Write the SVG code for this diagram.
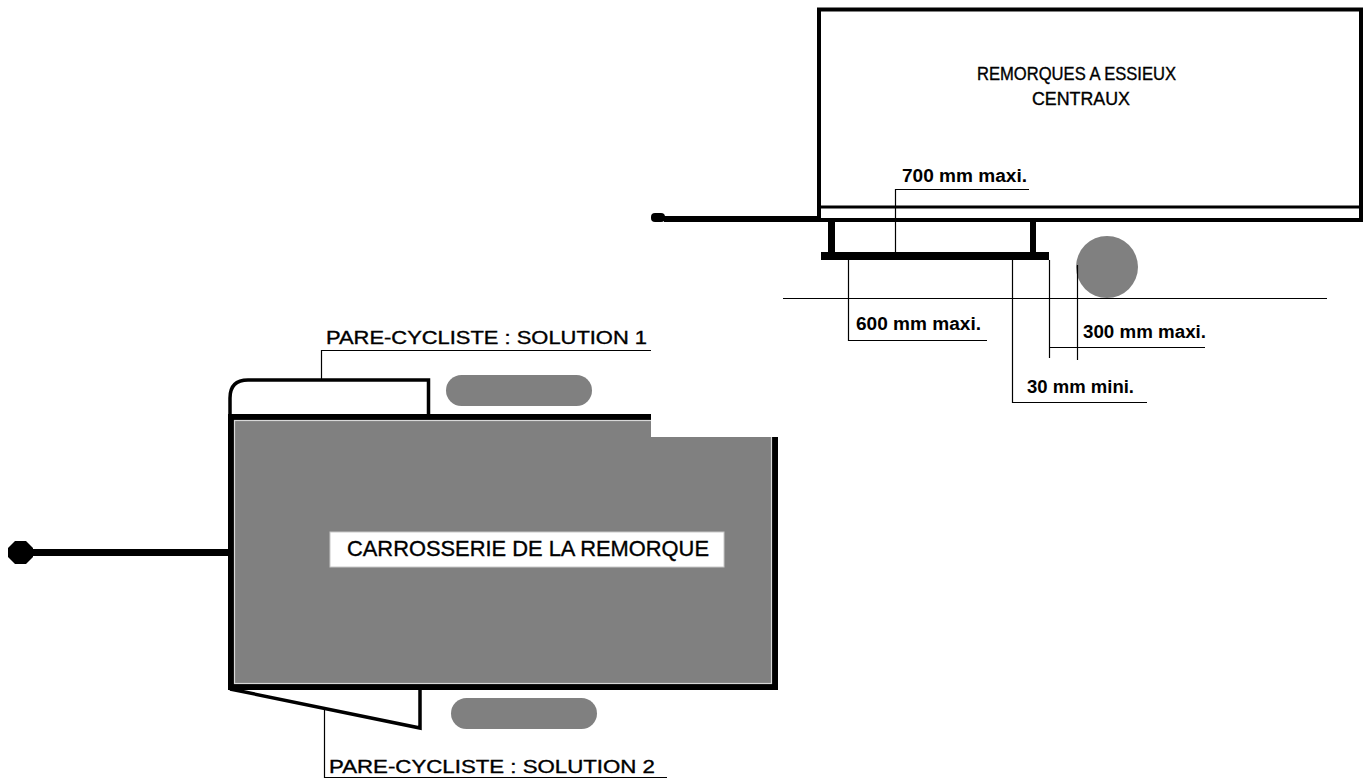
<svg xmlns="http://www.w3.org/2000/svg" width="1367" height="780" viewBox="0 0 1367 780">
<style>
.t{font-family:"Liberation Sans",Arial,sans-serif;fill:#000}
.reg{stroke:#000;stroke-width:0.35}
.dim{font-size:17.5px;font-weight:bold}
.thin{stroke:#000;stroke-width:1.2;fill:none}
.gray{fill:#808080}
</style>
<rect width="1367" height="780" fill="#fff"/>
<g id="side-trailer">
  <rect x="819" y="9.5" width="542" height="210.5" fill="none" stroke="#000" stroke-width="4"/>
  <line x1="819" y1="207" x2="1361" y2="207" stroke="#000" stroke-width="3"/>
  <text class="t reg" x="977" y="80" font-size="17.5" textLength="199" lengthAdjust="spacingAndGlyphs">REMORQUES A ESSIEUX</text>
  <text class="t reg" x="1032" y="105" font-size="17.5" textLength="98" lengthAdjust="spacingAndGlyphs">CENTRAUX</text>
</g>
<g id="side-towbar">
  <line x1="664" y1="219" x2="819" y2="219" stroke="#000" stroke-width="6"/>
  <rect x="651" y="213" width="14" height="9" rx="4" fill="#000"/>
</g>
<g id="side-guard">
  <rect x="828" y="220" width="7" height="33" fill="#000"/>
  <rect x="1030" y="220" width="6" height="33" fill="#000"/>
  <rect x="821" y="252" width="228" height="8" fill="#000"/>
</g>
<g id="side-wheel">
  <circle cx="1107" cy="267" r="31" class="gray"/>
</g>
<g id="ground">
  <line x1="783" y1="298.5" x2="1327" y2="298.5" stroke="#000" stroke-width="1.2"/>
</g>
<g id="plan-body">
  <rect x="231" y="417" width="544" height="270" fill="#808080" stroke="#000" stroke-width="6"/>
  <rect x="234.5" y="420.5" width="537" height="263" fill="none" stroke="#d8d8d8" stroke-width="1.2"/>
  <rect x="651" y="410" width="130" height="27" fill="#fff"/>
  <rect x="330" y="532" width="394" height="35" fill="#fff" stroke="#c8c8c8" stroke-width="1"/>
  <text class="t reg" x="347" y="556" font-size="21.5" textLength="362" lengthAdjust="spacingAndGlyphs">CARROSSERIE DE LA REMORQUE</text>
</g>
<g id="plan-towbar">
  <line x1="30" y1="552.5" x2="231" y2="552.5" stroke="#000" stroke-width="7"/>
  <polygon points="15,541 26,541 33,548 33,557 26,564 15,564 8,557 8,548" fill="#000"/>
</g>
<g id="guard-1">
  <path d="M230 416 V398 Q230 380 248 380 H428.5 V416" fill="none" stroke="#000" stroke-width="3.5"/>
</g>
<g id="guard-2">
  <path d="M230 689 L420 728 V689" fill="none" stroke="#000" stroke-width="3.5"/>
</g>
<g id="wheel-top">
  <rect x="446" y="375" width="146" height="31" rx="15.5" class="gray"/>
</g>
<g id="wheel-bottom">
  <rect x="451" y="698" width="146" height="31" rx="15.5" class="gray"/>
</g>
<g id="connectors">
  <path class="thin" d="M895.5 252 V189.5 H1029"/>
  <path class="thin" d="M848.5 260 V340.5 H987"/>
  <path class="thin" d="M1012.5 260 V402.5 H1147"/>
  <path class="thin" d="M1049.5 260 V358"/>
  <path class="thin" d="M1049.5 347.5 H1205"/>
  <path class="thin" d="M1077.5 265 V360"/>
  <path class="thin" d="M321.5 380 V350.5 H651"/>
  <path class="thin" d="M324.5 709 V777.5 H667"/>
</g>
<g id="labels">
  <text class="t dim" x="902" y="182" textLength="125" lengthAdjust="spacingAndGlyphs">700 mm maxi.</text>
  <text class="t dim" x="856" y="330" textLength="125" lengthAdjust="spacingAndGlyphs">600 mm maxi.</text>
  <text class="t dim" x="1083" y="338" textLength="123" lengthAdjust="spacingAndGlyphs">300 mm maxi.</text>
  <text class="t dim" x="1027" y="393" textLength="107" lengthAdjust="spacingAndGlyphs">30 mm mini.</text>
  <text class="t reg" x="326" y="344" font-size="18.5" textLength="321" lengthAdjust="spacingAndGlyphs">PARE-CYCLISTE : SOLUTION 1</text>
  <text class="t reg" x="329" y="773" font-size="18.5" textLength="326" lengthAdjust="spacingAndGlyphs">PARE-CYCLISTE : SOLUTION 2</text>
</g>
</svg>
